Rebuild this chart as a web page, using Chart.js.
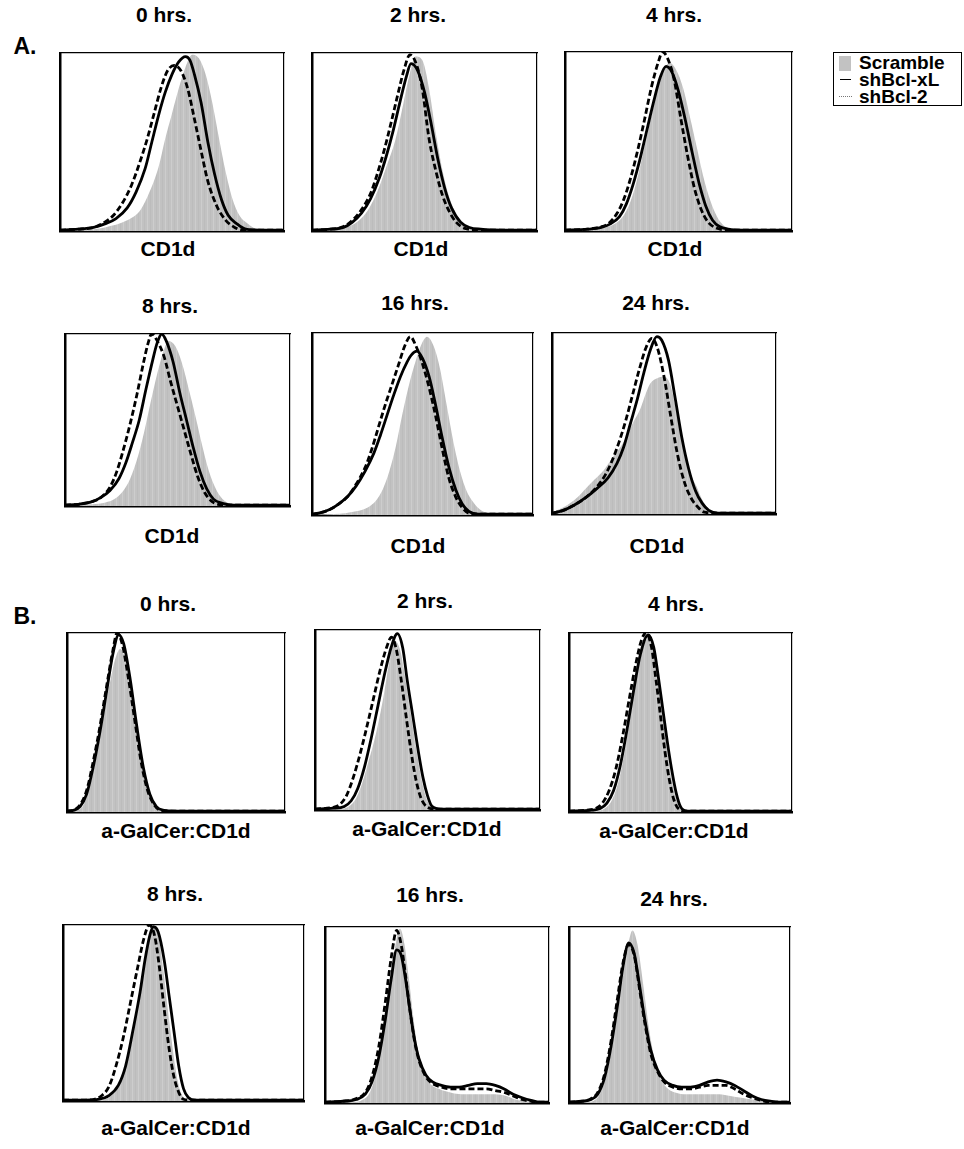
<!DOCTYPE html>
<html>
<head>
<meta charset="utf-8">
<script src="https://cdn.jsdelivr.net/npm/chart.js@4.4.1/dist/chart.umd.min.js"></script>
<style>
  body { margin: 0; background: #fff; width: 964px; height: 1149px; position: relative; overflow: hidden;
         font-family: "Liberation Sans", Arial, sans-serif; font-weight: bold; color: #000; }
  .txt { position: absolute; transform: translate(-50%, -50%); white-space: nowrap; font-size: 21px; }
  .panel { position: absolute; }
  #legend { position: absolute; left: 833px; top: 52px; width: 127px; height: 52px; border: 1px solid #000; }
  #legend .row { position: absolute; left: 0; height: 18px; display: flex; align-items: center; font-size: 19px; }
  #legend .mk { width: 22px; display: flex; justify-content: center; align-items: center; }
</style>
</head>
<body>
<div class="txt" style="left:25px;top:46px;font-size:23px">A.</div>
<div class="txt" style="left:25px;top:616px;font-size:23px">B.</div>
<div id="legend"></div>

<script>
// ───── Flow cytometry overlays: CD1d (A) and a-GalCer:CD1d (B) ──────────────
// Each panel overlays three histograms. x and y are given in percent of the
// panel's axis range (x = fluorescence channel, y = % of modal count).

const timeLabels = ['0 hrs.', '2 hrs.', '4 hrs.', '8 hrs.', '16 hrs.', '24 hrs.'];
const seriesNames = ['Scramble', 'shBcl-xL', 'shBcl-2'];
const markerA = 'CD1d';
const markerB = 'a-GalCer:CD1d';

// A. CD1d
const a0Scramble = [[0,0.5],[15,1],[20,2],[30,6],[36,12],[40,22],[44,36],[47,52],[50,66],[53,80],[56,92],[59,99],[62,97],[65,88],[68,72],[71,52],[74,33],[77,18],[80,9],[84,4],[88,1],[92,0.5],[100,0.3]];
const a0XL = [[0,0.5],[8,1],[15,2],[20,4],[25,7],[30,13],[34,22],[38,35],[41,50],[44,65],[47,78],[50,88],[53,95],[56,98],[58,96],[60,88],[63,72],[66,50],[69,32],[72,18],[75,9],[79,4],[83,1],[90,0.5],[100,0.5]];
const a0Bcl2 = [[0,0.5],[8,1],[15,2],[20,5],[24,9],[28,16],[32,26],[36,40],[39,52],[42,66],[45,80],[48,90],[51,93],[54,90],[57,80],[60,63],[63,45],[66,28],[70,14],[74,6],[78,2],[82,0.5],[100,0.5]];

const a2Scramble = [[0,0.5],[10,1],[15,2],[20,5],[25,12],[29,22],[33,36],[37,51],[40,68],[43,86],[46,98],[49,96],[52,80],[55,55],[58,34],[61,19],[64,10],[68,4],[72,1],[80,0.5],[100,0.3]];
const a2XL = [[0,0.5],[8,1],[14,2],[18,5],[22,10],[26,18],[30,30],[33,42],[36,56],[39,72],[42,87],[44,94],[47,90],[50,78],[53,60],[56,40],[59,24],[62,13],[66,5],[70,2],[75,1],[85,0.5],[100,0.5]];
const a2Bcl2 = [[0,0.5],[8,1],[14,2.5],[18,6],[22,12],[26,21],[29,32],[32,45],[35,60],[38,76],[41,91],[43.5,99],[46,95],[49,80],[52,52],[55,34],[58,20],[61,11],[64,5],[68,1.5],[75,0.5],[100,0.5]];

const a4Scramble = [[0,0.5],[12,1],[18,2],[22,4],[26,9],[29,17],[32,30],[35,47],[38,64],[41,80],[44,91],[46,94],[49,90],[52,80],[55,64],[58,47],[61,30],[64,17],[67,8],[70,3],[74,1],[80,0.5],[100,0.3]];
const a4XL = [[0,0.5],[10,1],[16,2],[20,4],[24,8],[27,15],[30,26],[33,40],[36,56],[39,72],[42,86],[44.5,92],[47,89],[50,78],[53,62],[56,44],[59,27],[62,14],[65,6],[68,2.5],[72,1],[78,0.5],[100,0.5]];
const a4Bcl2 = [[0,0.5],[10,1],[15,2],[19,4],[23,10],[26,18],[29,30],[32,45],[35,62],[38,80],[41,94],[43,100],[45,97],[48,85],[51,63],[54,42],[57,24],[60,12],[63,5],[67,1.5],[72,0.5],[100,0.5]];

const a8Scramble = [[0,0.5],[12,1],[18,2],[22,4],[26,9],[29,16],[32,27],[35,42],[38,60],[41,77],[44,91],[46,96],[49,93],[52,83],[55,68],[58,52],[61,35],[64,20],[67,10],[70,4],[74,1],[80,0.5],[100,0.3]];
const a8XL = [[0,0.5],[6,1],[12,2.5],[16,5],[20,9],[24,16],[27,25],[30,37],[33,50],[36,68],[39,85],[41,95],[43,100],[45,96],[48,84],[51,66],[54,50],[57,34],[60,20],[63,10],[66,4],[70,1.5],[75,0.5],[100,0.5]];
const a8Bcl2 = [[0,0.5],[6,1],[12,2.5],[16,5],[20,11],[23,20],[26,33],[29,48],[32,65],[35,84],[37,95],[38.5,100],[41,96],[44,87],[47,72],[50,58],[53,44],[56,30],[59,17],[62,8],[65,3],[68,1],[75,0.5],[100,0.5]];

const a16Scramble = [[0,0.3],[10,0.5],[15,1],[20,2],[25,4],[29,8],[32,14],[35,24],[38,38],[41,56],[44,72],[47,85],[50,95],[52,98],[55,93],[58,80],[61,60],[64,40],[67,24],[70,13],[73,7],[76,3],[80,1],[85,0.5],[100,0.3]];
const a16XL = [[0,0.5],[3,1],[8,3],[12,6],[16,10],[20,16],[24,24],[28,34],[31,44],[34,55],[37,66],[40,76],[43,84],[45,88],[47.5,90],[50,86],[53,76],[56,60],[59,42],[62,26],[65,14],[68,6],[71,2],[75,0.5],[100,0.5]];
const a16Bcl2 = [[0,0.5],[3,1],[8,3],[12,6],[16,10],[20,17],[24,26],[27,36],[30,48],[33,60],[36,71],[39,82],[42,93],[44.5,98],[47,93],[50,83],[53,70],[56,54],[59,36],[62,20],[65,10],[68,4],[71,1],[76,0.5],[100,0.5]];

const a24Scramble = [[0,1],[4,3],[8,6],[12,10],[15,14],[19,19],[23,24],[27.5,32],[30,36],[33.4,43],[36,50],[39.4,58],[42,67],[43.8,72],[47,75],[49.8,76],[52.7,72],[55,60],[58.7,38],[62,22],[64.6,15],[67,8],[70.6,2],[75,0.5],[100,0.3]];
const a24XL = [[0,0.5],[5,2],[10,5],[15,9],[20,14],[25,20],[29,28],[32,37],[35,50],[38,63],[41,78],[44,91],[46.8,98],[49,96],[52,85],[55,64],[58,42],[61,25],[64,13],[67,6],[70,2],[74,0.5],[100,0.5]];
const a24Bcl2 = [[0,0.5],[5,2],[10,5],[15,9],[20,15],[24,22],[27,30],[30,40],[33,52],[36,66],[39,80],[42,92],[44.6,97],[47,92],[50,76],[53,54],[56,33],[59,18],[62,9],[65,4],[68,1],[74,0.5],[100,0.5]];

// B. a-GalCer:CD1d
const b0Scramble = [[0,0.3],[5,1],[8,5],[11,17],[14,34],[17,55],[20,74],[22,85],[24.4,91],[27,84],[30,62],[33,38],[36,18],[39,7],[42,2],[46,0.5],[100,0.3]];
const b0XL = [[0,0.5],[3,1],[6,3],[9,10],[12,25],[15,44],[18,66],[21,88],[23.7,99],[26,94],[29,74],[32,48],[35,25],[38,10],[41,3],[44,1],[50,0.5],[100,0.5]];
const b0Bcl2 = [[0,0.5],[3,1],[6,4],[9,12],[12,28],[15,47],[18,69],[21,90],[23,100],[25.5,93],[28,76],[31,52],[34,28],[37,12],[40,4],[43,1],[50,0.5],[100,0.5]];

const b2Scramble = [[0,0.3],[10,0.5],[15,2],[18,6],[21,15],[24,28],[27,42],[30,60],[33,82],[35.5,94],[38,88],[40.5,70],[43,50],[45.5,30],[48,13],[50,5],[52,1],[56,0.3],[100,0.3]];
const b2XL = [[0,0.5],[8,1],[13,2],[16,5],[19,12],[22,24],[25,40],[28,58],[31,76],[34,91],[36.6,98],[39,90],[41,72],[43.5,52],[46,32],[48,18],[50,8],[52,2],[56,0.5],[100,0.5]];
const b2Bcl2 = [[0,0.5],[8,1.5],[11,3],[14,8],[17,18],[20,31],[23,46],[26,62],[29,78],[32,91],[34,96],[36,90],[38,75],[40.5,52],[43,30],[45,16],[47,7],[49.5,2],[54,0.5],[100,0.5]];

const b4Scramble = [[0,0.3],[12,0.5],[16,2],[19,6],[22,16],[25,34],[28,58],[31,80],[33.5,93],[35.5,97],[38,90],[40,72],[42.5,50],[45,26],[47,12],[49,4],[51,1],[55,0.3],[100,0.3]];
const b4XL = [[0,0.5],[10,1],[14,2],[17,5],[20,12],[23,26],[26,46],[29,68],[32,88],[35.5,99],[38,92],[40,76],[42,58],[44,40],[46,24],[48,11],[50,3],[53,0.5],[100,0.5]];
const b4Bcl2 = [[0,0.5],[8,1],[12,2],[15,5],[18,12],[21,24],[24,42],[27,63],[30,83],[32.5,96],[34.5,100],[37,92],[39,74],[41,54],[43,34],[45,18],[47,7],[49,2],[53,0.5],[100,0.5]];

const b8Scramble = [[0,0.3],[14,0.5],[19,2],[22,6],[25,14],[28,30],[31,54],[34,80],[36,94],[37.5,99],[39.5,94],[41.5,76],[43.5,52],[45.5,30],[47.5,12],[49.5,3],[52,0.5],[100,0.3]];
const b8XL = [[0,0.5],[9,0.5],[15,1],[19,3],[23,9],[26,20],[29,40],[32,62],[34,80],[36,94],[37.5,99],[39.5,96],[42,80],[44,60],[46,40],[48,20],[50,7],[52,2],[55,0.5],[100,0.5]];
const b8Bcl2 = [[0,0.5],[9,0.5],[13,1],[16,3],[19,8],[22,20],[25,36],[28,56],[31,76],[33.5,92],[35.8,100],[38,94],[40,76],[42,52],[44,30],[46,14],[48,5],[50,1],[54,0.5],[100,0.5]];

const b16Scramble = [[0,0.3],[12,0.5],[17,2],[20,6],[23,18],[26,40],[29,68],[31.5,90],[33.5,99],[35.5,90],[37.5,70],[39.5,48],[41.5,30],[44,18],[47,11],[51,8],[56,6],[61,5],[66,5],[71,5],[76,5],[81,4],[85,2],[90,1],[95,0.5],[100,0.3]];
const b16XL = [[0,0.5],[8,1],[14,2],[18,5],[21,12],[24,26],[27,48],[29.5,70],[32,87],[34,84],[36,70],[38,52],[40,36],[42,25],[45,16],[48,12],[52,10],[56,9],[60,9],[64,10],[68,11],[72,11],[76,10],[80,8],[84,5],[88,3],[92,1.5],[96,0.5],[100,0.5]];
const b16Bcl2 = [[0,0.5],[8,1],[14,2.5],[18,6],[21,15],[24,32],[27,58],[29.5,82],[32,98],[34,90],[36,72],[38,52],[40,35],[42,24],[45,15],[48,11],[52,9],[56,8],[60,8],[64,8],[68,8],[72,8],[76,7],[80,6],[84,4],[88,2],[92,1],[96,0.5],[100,0.5]];

const b24Scramble = [[0,0.3],[8,0.5],[12,2],[15,8],[18,22],[21,44],[24,68],[26.5,88],[28.7,98],[31,90],[33.5,68],[36,44],[38.5,26],[41,15],[44,9],[48,6],[53,5],[58,5],[63,5],[68,5],[73,4],[78,3],[83,2],[88,1],[93,0.5],[100,0.3]];
const b24XL = [[0,0.5],[6,1],[10,2],[13,5],[16,14],[19,32],[22,56],[24.5,78],[27,91],[29.5,85],[32,66],[34.5,46],[37,30],[40,19],[43,13],[47,10],[51,9],[55,9],[59,10],[63,12],[67,13],[71,12],[75,10],[79,7],[83,4],[87,2],[91,1],[95,0.5],[100,0.5]];
const b24Bcl2 = [[0,0.5],[6,1],[10,2.5],[13,6],[16,16],[19,35],[22,60],[24.5,80],[27,90],[29.5,84],[32,64],[34.5,44],[37,28],[40,18],[43,12],[47,9],[51,8],[55,8],[59,9],[63,10],[67,10],[71,10],[75,8],[79,5],[83,3],[87,1.5],[91,0.5],[100,0.5]];

// Panel placement: plot box (left, top, width, height), title centre, axis label centre.
const panels = [
  { t: 0, marker: markerA, data: [a0Scramble, a0XL, a0Bcl2], box: [60, 53, 224, 178], title: [164, 15], label: [168, 249] },
  { t: 1, marker: markerA, data: [a2Scramble, a2XL, a2Bcl2], box: [312, 53, 225, 178], title: [418, 15], label: [421, 249] },
  { t: 2, marker: markerA, data: [a4Scramble, a4XL, a4Bcl2], box: [565, 52, 227, 179], title: [674, 15], label: [675, 249] },
  { t: 3, marker: markerA, data: [a8Scramble, a8XL, a8Bcl2], box: [65, 334, 225, 172], title: [170, 306], label: [172, 536] },
  { t: 4, marker: markerA, data: [a16Scramble, a16XL, a16Bcl2], box: [312, 333, 221, 182], title: [415, 303], label: [418, 546] },
  { t: 5, marker: markerA, data: [a24Scramble, a24XL, a24Bcl2], box: [552, 333, 224, 181], title: [656, 303], label: [657, 546] },
  { t: 0, marker: markerB, data: [b0Scramble, b0XL, b0Bcl2], box: [67, 633, 218, 179], title: [168, 604], label: [176, 831] },
  { t: 1, marker: markerB, data: [b2Scramble, b2XL, b2Bcl2], box: [315, 630, 225, 180], title: [425, 601], label: [427, 829] },
  { t: 2, marker: markerB, data: [b4Scramble, b4XL, b4Bcl2], box: [569, 633, 223, 179], title: [676, 604], label: [674, 831] },
  { t: 3, marker: markerB, data: [b8Scramble, b8XL, b8Bcl2], box: [63, 925, 241, 176], title: [175, 894], label: [176, 1128] },
  { t: 4, marker: markerB, data: [b16Scramble, b16XL, b16Bcl2], box: [325, 927, 224, 176], title: [430, 895], label: [430, 1128] },
  { t: 5, marker: markerB, data: [b24Scramble, b24XL, b24Bcl2], box: [569, 927, 221, 176], title: [674, 899], label: [675, 1128] },
];

const PAD = 3;
const GRAY = '#c2c2c2';

// Faint vertical striping, like the binned histogram bars of the original.
function grayPattern() {
  const c = document.createElement('canvas');
  c.width = 6;
  c.height = 4;
  const g = c.getContext('2d');
  g.fillStyle = GRAY;
  g.fillRect(0, 0, 6, 4);
  g.fillStyle = '#cdcdcd';
  g.fillRect(0, 0, 1, 4);
  g.fillStyle = '#bcbcbc';
  g.fillRect(3, 0, 1, 4);
  return g.createPattern(c, 'repeat');
}

function addText(text, x, y) {
  const el = document.createElement('div');
  el.className = 'txt';
  el.style.left = x + 'px';
  el.style.top = y + 'px';
  el.textContent = text;
  document.body.appendChild(el);
}

function frameScale(position, axis, width) {
  return {
    type: 'linear', position, axis, min: 0, max: 100,
    ticks: { display: false },
    grid: { display: false, drawTicks: false },
    border: { display: true, color: '#000', width },
  };
}

function toXY(pairs) {
  return pairs.map(([x, y]) => ({ x, y }));
}

panels.forEach((p) => {
  const [left, top, w, h] = p.box;
  const wrap = document.createElement('div');
  wrap.className = 'panel';
  wrap.style.left = (left - PAD) + 'px';
  wrap.style.top = (top - PAD) + 'px';
  const canvas = document.createElement('canvas');
  canvas.width = w + PAD * 2;
  canvas.height = h + PAD * 2;
  wrap.appendChild(canvas);
  document.body.appendChild(wrap);

  addText(timeLabels[p.t], p.title[0], p.title[1]);
  addText(p.marker, p.label[0], p.label[1]);

  const [scr, xl, bcl2] = p.data;

  new Chart(canvas, {
    type: 'line',
    data: {
      datasets: [
        {
          label: seriesNames[0],
          data: toXY(scr),
          borderWidth: 0,
          borderColor: GRAY,
          backgroundColor: grayPattern(),
          fill: 'origin',
          pointRadius: 0,
          cubicInterpolationMode: 'monotone',
          order: 3,
        },
        {
          label: seriesNames[1],
          data: toXY(xl),
          borderColor: '#000',
          borderWidth: 2.8,
          fill: false,
          pointRadius: 0,
          cubicInterpolationMode: 'monotone',
          order: 2,
        },
        {
          label: seriesNames[2],
          data: toXY(bcl2),
          borderColor: '#000',
          borderWidth: 2.8,
          borderDash: [6, 3],
          fill: false,
          pointRadius: 0,
          cubicInterpolationMode: 'monotone',
          order: 1,
        },
      ],
    },
    options: {
      responsive: false,
      animation: false,
      devicePixelRatio: 1,
      layout: { padding: PAD },
      plugins: { legend: { display: false }, tooltip: { enabled: false } },
      scales: {
        x: frameScale('bottom', 'x', 2.5),
        y: frameScale('left', 'y', 2.5),
        x2: frameScale('top', 'x', 1.2),
        y2: frameScale('right', 'y', 1.2),
      },
    },
  });
});

// Legend box (top right)
const legend = document.getElementById('legend');
const markers = [
  `<span style="display:inline-block;width:12px;height:15px;background:${GRAY}"></span>`,
  '<span style="display:inline-block;width:11px;border-top:1.5px solid #000"></span>',
  '<span style="display:inline-block;width:13px;border-top:1px dotted #777"></span>',
];
seriesNames.forEach((name, i) => {
  const row = document.createElement('div');
  row.className = 'row';
  row.style.top = (1 + i * 16.8) + 'px';
  row.innerHTML = `<span class="mk">${markers[i]}</span><span style="margin-left:3px">${name}</span>`;
  legend.appendChild(row);
});
</script>
</body>
</html>
